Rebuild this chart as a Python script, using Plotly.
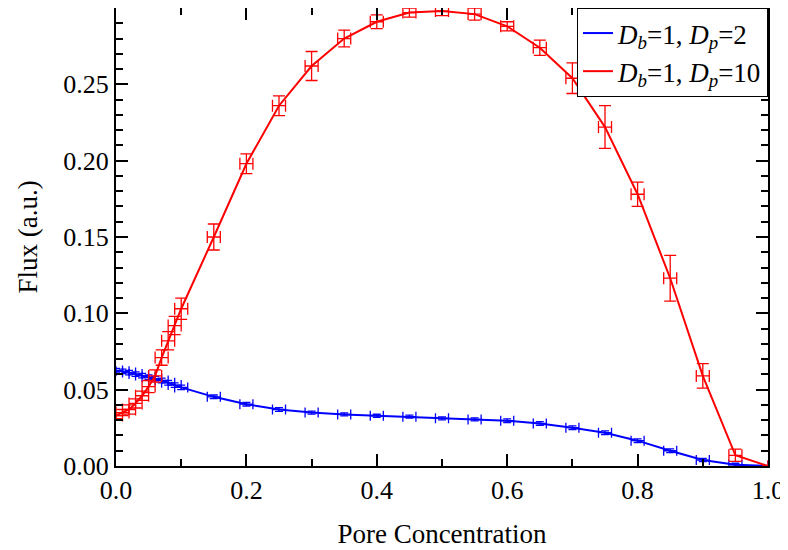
import plotly.graph_objects as go

# Pore concentration values
conc = [0.00, 0.01, 0.02, 0.03, 0.04, 0.05, 0.06, 0.07, 0.08, 0.09, 0.10,
        0.15, 0.20, 0.25, 0.30, 0.35, 0.40, 0.45, 0.50, 0.55, 0.60, 0.65,
        0.70, 0.75, 0.80, 0.85, 0.90, 0.95, 1.00]

# Series Db=1, Dp=2 (blue)
flux_dp2 = [0.0625, 0.0620, 0.0612, 0.0602, 0.0592, 0.0582, 0.0572, 0.0560, 0.0545, 0.0530, 0.0515,
            0.0453, 0.0405, 0.0370, 0.0350, 0.0338, 0.0329, 0.0323, 0.0312, 0.0305, 0.0297, 0.0279,
            0.0251, 0.0218, 0.0166, 0.0100, 0.0039, 0.0008, 0.0]
err_dp2 = [0.0015, 0.0015, 0.0015, 0.0015, 0.0015, 0.0015, 0.0015, 0.0015, 0.0015, 0.0015, 0.0015,
           0.0012, 0.0012, 0.0012, 0.0010, 0.0010, 0.0010, 0.0010, 0.0010, 0.0010, 0.0012, 0.0012,
           0.0012, 0.0012, 0.0012, 0.0012, 0.0010, 0.0010, 0.0]

# Series Db=1, Dp=10 (red)
flux_dp10 = [0.033, 0.035, 0.037, 0.041, 0.046, 0.052, 0.059, 0.071, 0.082, 0.092, 0.103,
             0.150, 0.198, 0.236, 0.262, 0.280, 0.291, 0.297, 0.298, 0.296, 0.288, 0.274,
             0.254, 0.222, 0.178, 0.123, 0.059, 0.007, 0.0]
err_dp10 = [0.002, 0.002, 0.003, 0.003, 0.003, 0.004, 0.004, 0.005, 0.006, 0.006, 0.007,
            0.0085, 0.0065, 0.0065, 0.0095, 0.0055, 0.0045, 0.003, 0.003, 0.004, 0.003, 0.005,
            0.010, 0.014, 0.008, 0.015, 0.008, 0.004, 0.0]

conc_err = [0.01] * (len(conc) - 1) + [0.0]

x_ticks = [0.0, 0.2, 0.4, 0.6, 0.8, 1.0]
x_tick_text = ["0.0", "0.2", "0.4", "0.6", "0.8", "1.0"]
y_ticks = [0.00, 0.05, 0.10, 0.15, 0.20, 0.25]
y_tick_text = ["0.00", "0.05", "0.10", "0.15", "0.20", "0.25"]

FONT = "Liberation Serif, Times New Roman, serif"

fig = go.Figure()

fig.add_trace(go.Scatter(
    x=conc, y=flux_dp2, mode="lines",
    name="<i>D</i><sub><i>b</i></sub>=1, <i>D</i><sub><i>p</i></sub>=2",
    line=dict(color="#0000ff", width=2),
    error_y=dict(type="data", array=err_dp2, color="#0000ff", thickness=1.3, width=4, visible=True),
    error_x=dict(type="data", array=conc_err, color="#0000ff", thickness=1.3, width=5, visible=True),
))
fig.add_trace(go.Scatter(
    x=conc, y=flux_dp10, mode="lines",
    name="<i>D</i><sub><i>b</i></sub>=1, <i>D</i><sub><i>p</i></sub>=10",
    line=dict(color="#ff0000", width=2),
    error_y=dict(type="data", array=err_dp10, color="#ff0000", thickness=1.3, width=6, visible=True),
    error_x=dict(type="data", array=conc_err, color="#ff0000", thickness=1.3, width=6, visible=True),
))

axis_common = dict(
    showgrid=False, zeroline=False,
    showline=True, linecolor="black", linewidth=2, mirror="allticks",
    ticks="inside", ticklen=12, tickwidth=2, tickcolor="black",
    tickfont=dict(family=FONT, size=26, color="black"),
)

fig.update_xaxes(
    range=[0, 1], tickvals=x_ticks, ticktext=x_tick_text,
    title=dict(text="Pore Concentration", font=dict(family=FONT, size=27, color="black"), standoff=20),
    minor=dict(dtick=0.1, tick0=0, ticks="inside", ticklen=7, tickwidth=2, tickcolor="black", showgrid=False),
    **axis_common,
)
fig.update_yaxes(
    range=[0, 0.3], tickvals=y_ticks, ticktext=y_tick_text,
    title=dict(text="Flux (a.u.)", font=dict(family=FONT, size=27, color="black"), standoff=18),
    minor=dict(dtick=0.01, tick0=0, ticks="inside", ticklen=7, tickwidth=2, tickcolor="black", showgrid=False),
    **axis_common,
)

fig.update_layout(
    width=788, height=550,
    margin=dict(l=108, r=28, t=0, b=92, autoexpand=False),
    paper_bgcolor="white", plot_bgcolor="white",
    font=dict(family=FONT, size=26, color="black"),
    showlegend=True,
    legend=dict(
        x=1, y=1, xanchor="right", yanchor="top",
        bgcolor="white", bordercolor="black", borderwidth=1,
        font=dict(family=FONT, size=27, color="black"),
        tracegroupgap=0, itemwidth=30,
    ),
)

fig.write_html("out.html")
